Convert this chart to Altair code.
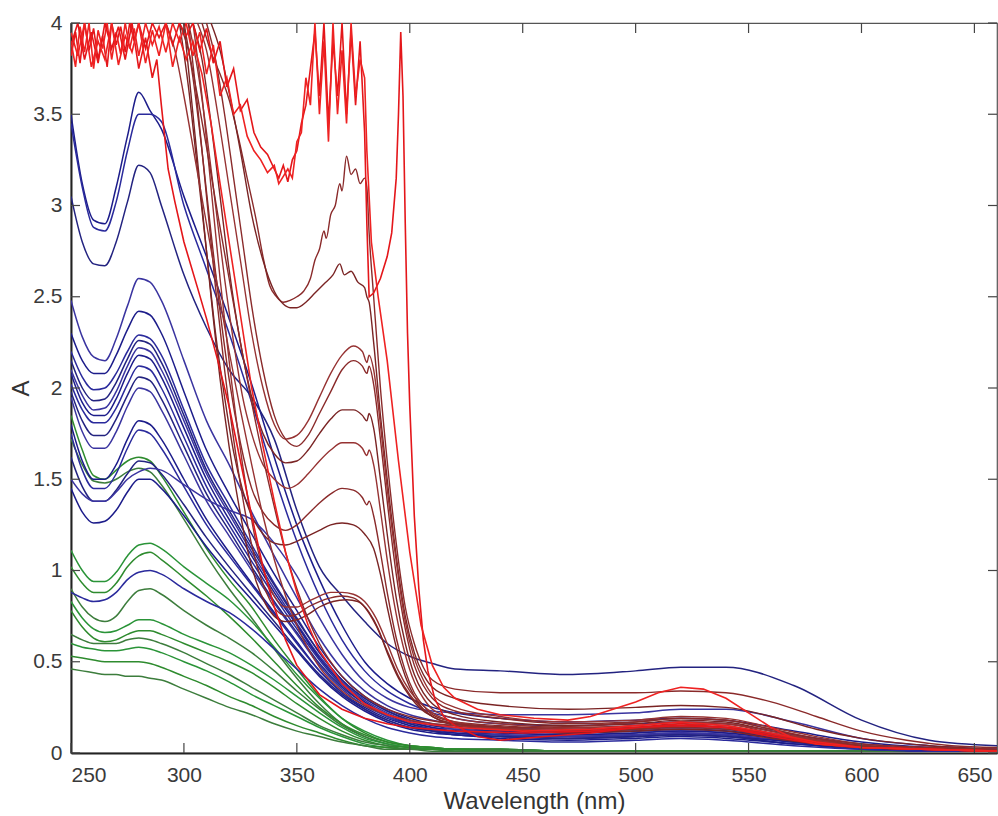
import altair as alt
import pandas as pd

# ---------------- data ----------------
XTICKS = [250, 300, 350, 400, 450, 500, 550, 600, 650]
YTICKS = [0, 0.5, 1, 1.5, 2, 2.5, 3, 3.5, 4]

# common wavelength grid for the blue and green spectra
GRID = [250, 255, 260, 265, 270, 275, 280, 285, 290, 300, 310, 320, 330, 340, 350,
        360, 370, 380, 390, 400, 410, 420, 440, 470, 500, 520, 540, 570, 600, 630, 660]

b01 = [3.50,3.12,2.92,2.90,3.10, 3.38,3.62,3.52,3.42,3.05, 2.72,2.38,2.02,1.62,1.25, 0.95,0.70,0.50,0.38,0.30, 0.25,0.22,0.19,0.17,0.18, 0.19,0.18,0.12,0.06,0.03, 0.02]
b02 = [3.45,3.10,2.88,2.86,3.02, 3.30,3.50,3.50,3.46,3.00, 2.65,2.30,1.92,1.52,1.16, 0.86,0.62,0.45,0.34,0.27, 0.22,0.19,0.16,0.15,0.16, 0.17,0.16,0.10,0.05,0.03, 0.02]
b03 = [3.05,2.80,2.68,2.67,2.80, 3.02,3.22,3.18,3.00,2.62, 2.33,2.10,1.95,1.72,1.33, 1.02,0.86,0.72,0.60,0.53, 0.49,0.46,0.45,0.43,0.45, 0.47,0.47,0.37,0.18,0.07, 0.04]
b04 = [2.48,2.28,2.17,2.15,2.27, 2.45,2.60,2.58,2.48,2.15, 1.82,1.58,1.32,1.08,0.85, 0.63,0.46,0.34,0.26,0.21, 0.18,0.16,0.14,0.13,0.14, 0.15,0.14,0.09,0.04,0.02, 0.01]
b05 = [2.30,2.15,2.08,2.08,2.18, 2.32,2.42,2.40,2.30,1.98, 1.66,1.42,1.20,0.98,0.78, 0.58,0.42,0.31,0.24,0.19, 0.16,0.15,0.13,0.12,0.13, 0.14,0.13,0.08,0.04,0.02, 0.01]
b06 = [2.20,2.06,1.99,2.00,2.08, 2.20,2.29,2.27,2.18,1.88, 1.58,1.36,1.14,0.93,0.74, 0.55,0.40,0.30,0.23,0.18, 0.15,0.14,0.12,0.11,0.12, 0.13,0.12,0.08,0.04,0.02, 0.01]
b07 = [2.15,2.00,1.93,1.94,2.03, 2.16,2.26,2.24,2.14,1.85, 1.55,1.33,1.12,0.92,0.73, 0.55,0.40,0.30,0.23,0.18, 0.15,0.13,0.12,0.11,0.12, 0.13,0.12,0.07,0.04,0.02, 0.01]
b08 = [2.10,1.96,1.88,1.89,1.98, 2.12,2.22,2.20,2.10,1.82, 1.53,1.31,1.10,0.90,0.71, 0.53,0.39,0.29,0.22,0.17, 0.14,0.13,0.11,0.10,0.11, 0.12,0.11,0.07,0.03,0.02, 0.01]
b09 = [2.08,1.92,1.85,1.85,1.94, 2.08,2.18,2.16,2.06,1.78, 1.50,1.28,1.08,0.88,0.70, 0.52,0.38,0.28,0.21,0.17, 0.14,0.12,0.11,0.10,0.11, 0.12,0.11,0.07,0.03,0.02, 0.01]
b10 = [2.02,1.88,1.81,1.81,1.89, 2.02,2.12,2.10,2.00,1.73, 1.46,1.25,1.05,0.86,0.68, 0.51,0.37,0.27,0.21,0.16, 0.13,0.12,0.10,0.09,0.10, 0.11,0.10,0.06,0.03,0.02, 0.01]
b11 = [1.98,1.82,1.74,1.74,1.83, 1.96,2.06,2.04,1.94,1.68, 1.42,1.22,1.02,0.83,0.66, 0.49,0.36,0.27,0.20,0.16, 0.13,0.12,0.10,0.09,0.10, 0.11,0.10,0.06,0.03,0.02, 0.01]
b12 = [1.95,1.76,1.67,1.67,1.76, 1.90,2.00,1.98,1.88,1.63, 1.38,1.19,1.00,0.82,0.65, 0.48,0.35,0.26,0.20,0.15, 0.13,0.11,0.10,0.09,0.10, 0.11,0.10,0.06,0.03,0.02, 0.01]
b13 = [1.80,1.60,1.50,1.50,1.58, 1.72,1.82,1.80,1.72,1.50, 1.28,1.10,0.93,0.77,0.61, 0.45,0.33,0.25,0.19,0.15, 0.12,0.11,0.09,0.08,0.09, 0.10,0.09,0.06,0.03,0.01, 0.01]
b14 = [1.75,1.55,1.45,1.45,1.53, 1.67,1.77,1.75,1.67,1.46, 1.25,1.08,0.92,0.76,0.60, 0.45,0.33,0.24,0.18,0.14, 0.12,0.10,0.09,0.08,0.09, 0.10,0.09,0.05,0.03,0.01, 0.01]
b15 = [1.62,1.46,1.38,1.38,1.44, 1.53,1.60,1.59,1.53,1.36, 1.18,1.02,0.87,0.72,0.57, 0.43,0.32,0.24,0.18,0.14, 0.12,0.10,0.09,0.08,0.09, 0.10,0.09,0.05,0.03,0.01, 0.01]
b16 = [1.50,1.42,1.38,1.38,1.43, 1.50,1.54,1.56,1.55,1.47, 1.39,1.33,1.28,1.15,0.97, 0.74,0.54,0.39,0.30,0.25, 0.23,0.22,0.21,0.21,0.22, 0.24,0.24,0.17,0.08,0.04, 0.02]
b17 = [1.45,1.32,1.26,1.27,1.33, 1.43,1.50,1.50,1.45,1.30, 1.13,0.98,0.84,0.70,0.56, 0.42,0.31,0.23,0.17,0.13, 0.11,0.10,0.08,0.07,0.08, 0.09,0.08,0.05,0.02,0.01, 0.01]
b18 = [0.88,0.85,0.83,0.84,0.88, 0.95,0.99,1.00,0.98,0.90, 0.83,0.77,0.68,0.57,0.46, 0.35,0.26,0.19,0.14,0.11, 0.09,0.08,0.07,0.06,0.07, 0.08,0.07,0.04,0.02,0.01, 0.01]
BLUE = [b01, b02, b03, b04, b05, b06, b07, b08, b09, b10, b11, b12, b13, b14, b15, b16, b17, b18]

g01 = [1.85,1.66,1.52,1.50,1.55, 1.60,1.62,1.60,1.52,1.32, 1.12,0.95,0.80,0.62,0.46, 0.31,0.19,0.11,0.06,0.04, 0.03,0.02,0.02,0.01,0.01, 0.01,0.01,0.01,0.01,0.01, 0.01]
g02 = [1.72,1.58,1.49,1.48,1.50, 1.54,1.56,1.54,1.47,1.28, 1.08,0.90,0.74,0.57,0.41, 0.27,0.16,0.09,0.05,0.03, 0.02,0.02,0.01,0.01,0.01, 0.01,0.01,0.01,0.01,0.01, 0.01]
g03 = [1.11,1.00,0.94,0.94,0.99, 1.08,1.14,1.15,1.12,1.02, 0.93,0.84,0.72,0.58,0.43, 0.30,0.19,0.12,0.07,0.04, 0.03,0.02,0.02,0.01,0.01, 0.01,0.01,0.01,0.01,0.01, 0.01]
g04 = [1.02,0.93,0.88,0.88,0.93, 1.02,1.08,1.10,1.06,0.96, 0.86,0.75,0.63,0.50,0.37, 0.25,0.16,0.10,0.06,0.04, 0.03,0.02,0.02,0.01,0.01, 0.01,0.01,0.01,0.01,0.01, 0.01]
g05 = [0.90,0.80,0.74,0.72,0.75, 0.83,0.89,0.90,0.87,0.78, 0.70,0.63,0.55,0.45,0.34, 0.24,0.15,0.09,0.05,0.03, 0.02,0.02,0.02,0.01,0.01, 0.01,0.01,0.01,0.01,0.01, 0.01]
g06 = [0.83,0.74,0.68,0.66,0.67, 0.70,0.73,0.73,0.71,0.65, 0.60,0.55,0.48,0.40,0.31, 0.22,0.14,0.08,0.05,0.03, 0.02,0.02,0.01,0.01,0.01, 0.01,0.01,0.01,0.01,0.01, 0.01]
g07 = [0.78,0.69,0.63,0.61,0.62, 0.65,0.67,0.67,0.65,0.60, 0.55,0.50,0.44,0.36,0.27, 0.19,0.12,0.07,0.04,0.03, 0.02,0.02,0.01,0.01,0.01, 0.01,0.01,0.01,0.01,0.01, 0.01]
g08 = [0.65,0.62,0.60,0.60,0.60, 0.62,0.63,0.62,0.60,0.55, 0.49,0.43,0.36,0.29,0.22, 0.15,0.10,0.06,0.04,0.02, 0.02,0.01,0.01,0.01,0.01, 0.01,0.01,0.01,0.01,0.01, 0.01]
g09 = [0.60,0.58,0.57,0.56,0.56, 0.57,0.58,0.57,0.55,0.50, 0.45,0.39,0.32,0.26,0.20, 0.14,0.09,0.05,0.03,0.02, 0.02,0.01,0.01,0.01,0.01, 0.01,0.01,0.01,0.01,0.01, 0.01]
g10 = [0.53,0.52,0.51,0.50,0.50, 0.50,0.50,0.49,0.47,0.42, 0.37,0.31,0.26,0.20,0.15, 0.11,0.07,0.04,0.03,0.02, 0.02,0.01,0.01,0.01,0.01, 0.01,0.01,0.01,0.01,0.01, 0.01]
g11 = [0.46,0.45,0.44,0.43,0.43, 0.42,0.42,0.41,0.40,0.35, 0.30,0.25,0.21,0.16,0.12, 0.09,0.06,0.04,0.02,0.02, 0.01,0.01,0.01,0.01,0.01, 0.01,0.01,0.01,0.01,0.01, 0.01]
GREEN = [g01, g02, g03, g04, g05, g06, g07, g08, g09, g10, g11]

# dark red spectra: (wavelength, A) pairs
br01 = [(308,4.0),(312,3.84),(316,3.72),(320,3.58),(324,3.38),(328,3.15),(332,2.92),(335,2.72),(338,2.56),(341,2.5),(344,2.47),(347,2.48),(350,2.5),(353,2.53),(356,2.6),(358,2.7),(360,2.76),(362,2.86),(363,2.82),(365,2.95),(367,3.0),(369,3.12),(370,3.08),(372,3.27),(374,3.17),(376,3.2),(378,3.12),(380,3.15),(381,3.1),(382,2.85),(384,2.5),(387,2.0),(390,1.6),(394,1.15),(398,0.8),(402,0.6),(406,0.47),(410,0.4),(420,0.35),(440,0.33),(470,0.33),(500,0.33),(520,0.34),(540,0.33),(560,0.28),(580,0.2),(600,0.12),(620,0.07),(640,0.04),(660,0.03)]
br02 = [(312,4.0),(316,3.85),(320,3.62),(325,3.3),(330,2.95),(335,2.7),(340,2.53),(344,2.46),(347,2.44),(350,2.44),(354,2.47),(358,2.52),(362,2.57),(366,2.62),(369,2.68),(371,2.62),(374,2.64),(377,2.58),(380,2.55),(381,2.5),(382,2.47),(384,2.25),(387,1.85),(390,1.5),(394,1.08),(398,0.75),(402,0.55),(406,0.43),(410,0.36),(420,0.3),(440,0.26),(470,0.24),(500,0.25),(520,0.26),(540,0.25),(560,0.2),(580,0.13),(600,0.08),(630,0.04),(660,0.02)]
br03 = [(306,4.0),(310,3.85),(315,3.5),(320,3.1),(325,2.7),(330,2.3),(335,2.0),(340,1.8),(345,1.72),(350,1.74),(355,1.82),(360,1.95),(365,2.08),(370,2.18),(375,2.23),(379,2.2),(381,2.14),(382,2.18),(384,2.1),(387,1.8),(390,1.45),(394,1.05),(398,0.72),(402,0.52),(406,0.4),(410,0.32),(420,0.25),(440,0.2),(470,0.17),(500,0.18),(520,0.2),(540,0.19),(560,0.14),(580,0.09),(600,0.05),(630,0.03),(660,0.02)]
br04 = [(310,4.0),(314,3.8),(318,3.5),(322,3.15),(326,2.8),(330,2.45),(335,2.1),(340,1.85),(345,1.72),(350,1.68),(355,1.74),(360,1.86),(365,1.98),(370,2.1),(375,2.15),(379,2.12),(381,2.08),(382,2.12),(384,2.02),(387,1.72),(390,1.38),(394,0.98),(398,0.68),(402,0.48),(406,0.37),(410,0.3),(420,0.23),(440,0.19),(470,0.16),(500,0.17),(520,0.19),(540,0.18),(560,0.13),(580,0.08),(600,0.05),(630,0.03),(660,0.02)]
br05 = [(304,4.0),(308,3.8),(312,3.45),(316,3.05),(320,2.65),(325,2.25),(330,1.95),(335,1.75),(340,1.64),(345,1.59),(350,1.6),(355,1.66),(360,1.75),(365,1.83),(370,1.88),(375,1.88),(379,1.85),(381,1.82),(382,1.86),(384,1.78),(387,1.5),(390,1.2),(394,0.85),(398,0.6),(402,0.43),(406,0.33),(410,0.27),(420,0.21),(440,0.17),(470,0.15),(500,0.16),(520,0.18),(540,0.17),(560,0.12),(580,0.07),(600,0.04),(630,0.02),(660,0.01)]
br06 = [(302,4.0),(306,3.75),(310,3.4),(314,3.0),(318,2.6),(322,2.25),(326,1.95),(330,1.75),(335,1.58),(340,1.5),(346,1.45),(350,1.47),(355,1.53),(360,1.6),(365,1.66),(370,1.7),(375,1.7),(379,1.67),(381,1.63),(382,1.66),(384,1.58),(387,1.33),(390,1.06),(394,0.76),(398,0.54),(402,0.39),(406,0.3),(410,0.24),(420,0.19),(440,0.16),(470,0.14),(500,0.15),(520,0.17),(540,0.16),(560,0.11),(580,0.07),(600,0.04),(630,0.02),(660,0.01)]
br07 = [(300,4.0),(304,3.7),(308,3.3),(312,2.85),(316,2.42),(320,2.05),(325,1.7),(330,1.45),(335,1.32),(340,1.25),(345,1.22),(350,1.25),(355,1.31),(360,1.37),(365,1.42),(370,1.45),(375,1.44),(379,1.4),(381,1.36),(382,1.38),(384,1.3),(387,1.1),(390,0.88),(394,0.63),(398,0.45),(402,0.33),(406,0.26),(410,0.21),(420,0.17),(440,0.15),(470,0.13),(500,0.14),(520,0.16),(540,0.15),(560,0.1),(580,0.06),(600,0.03),(630,0.02),(660,0.01)]
br08 = [(298,4.0),(302,3.65),(306,3.2),(310,2.75),(314,2.3),(318,1.95),(322,1.65),(326,1.44),(330,1.3),(335,1.2),(340,1.15),(345,1.14),(350,1.16),(355,1.19),(360,1.22),(365,1.25),(370,1.26),(375,1.25),(380,1.2),(384,1.12),(387,0.98),(390,0.8),(394,0.58),(398,0.42),(402,0.31),(406,0.24),(410,0.2),(420,0.16),(440,0.14),(470,0.12),(500,0.13),(520,0.15),(540,0.14),(560,0.1),(580,0.06),(600,0.03),(630,0.02),(660,0.01)]
br09 = [(304,4.0),(308,3.6),(312,3.1),(316,2.6),(320,2.15),(324,1.75),(328,1.42),(332,1.15),(336,0.97),(340,0.86),(345,0.8),(350,0.8),(355,0.83),(360,0.86),(365,0.88),(370,0.88),(375,0.87),(380,0.83),(385,0.74),(390,0.6),(395,0.45),(400,0.34),(405,0.27),(410,0.22),(420,0.17),(440,0.14),(470,0.12),(500,0.13),(520,0.15),(540,0.14),(560,0.1),(580,0.06),(600,0.03),(630,0.02),(660,0.01)]
br10 = [(302,4.0),(306,3.55),(310,3.05),(314,2.55),(318,2.1),(322,1.72),(326,1.4),(330,1.14),(334,0.96),(338,0.84),(342,0.77),(346,0.75),(350,0.76),(355,0.8),(360,0.83),(365,0.85),(370,0.86),(375,0.85),(380,0.8),(385,0.7),(390,0.56),(395,0.42),(400,0.32),(405,0.25),(410,0.2),(420,0.16),(440,0.13),(470,0.12),(500,0.13),(520,0.14),(540,0.13),(560,0.09),(580,0.05),(600,0.03),(630,0.02),(660,0.01)]
br11 = [(300,4.0),(304,3.5),(308,3.0),(312,2.5),(316,2.05),(320,1.68),(324,1.38),(328,1.12),(332,0.94),(336,0.82),(340,0.75),(345,0.72),(350,0.73),(355,0.76),(360,0.8),(366,0.83),(372,0.84),(377,0.83),(382,0.77),(386,0.68),(390,0.55),(395,0.41),(400,0.31),(405,0.24),(410,0.2),(420,0.15),(440,0.13),(470,0.11),(500,0.12),(520,0.13),(540,0.12),(560,0.08),(580,0.05),(600,0.03),(630,0.02),(660,0.01)]
br12 = [(292,4.0),(296,3.85),(300,3.6),(305,3.25),(310,2.9),(315,2.55),(320,2.2),(325,1.88),(330,1.58),(335,1.3),(340,1.06),(345,0.86),(350,0.7),(360,0.47),(370,0.34),(380,0.26),(390,0.21),(400,0.18),(420,0.15),(450,0.13),(480,0.14),(500,0.15),(520,0.17),(540,0.16),(560,0.12),(580,0.07),(600,0.04),(630,0.02),(660,0.01)]
br13 = [(298,4.0),(302,3.85),(306,3.6),(310,3.32),(315,2.95),(320,2.6),(325,2.25),(330,1.92),(335,1.62),(340,1.35),(345,1.1),(350,0.9),(360,0.6),(370,0.42),(380,0.31),(390,0.24),(400,0.2),(420,0.16),(450,0.14),(480,0.15),(500,0.17),(520,0.19),(540,0.18),(560,0.13),(580,0.08),(600,0.04),(630,0.02),(660,0.01)]
BROWN = [br01, br02, br03, br04, br05, br06, br07, br08, br09, br10, br11, br12, br13]

# bright red (saturated, noisy) spectra
r01 = [(250,3.82),(252,3.95),(254,3.78),(256,4.0),(258,3.85),(260,3.97),(262,3.8),(264,3.93),(266,3.76),(268,4.0),(270,3.88),(272,3.98),(274,3.84),(276,4.0),(278,3.9),(280,4.0),(283,3.86),(286,4.0),(289,3.92),(292,4.0),(295,3.88),(298,4.0),(301,3.93),(304,4.0),(307,3.85),(310,3.97),(313,3.78),(316,3.9),(319,3.65),(322,3.75),(325,3.52),(328,3.58),(331,3.4),(334,3.32),(337,3.28),(340,3.2),(342,3.15),(344,3.22),(346,3.13),(348,3.25),(350,3.3),(352,3.45),(354,3.55),(356,3.75),(358,3.95),(360,3.6),(362,4.0),(364,3.45),(366,3.9),(368,3.6),(370,4.0),(372,3.5),(374,3.95),(376,3.55),(378,3.9),(380,3.4),(381,2.9),(382,2.5),(384,2.52),(387,2.6),(390,2.72),(392,2.85),(394,3.15),(395,3.5),(396,3.95),(397,3.6),(398,2.9),(399,2.3),(400,1.9),(402,1.3),(404,0.9),(406,0.62),(408,0.45),(411,0.3),(415,0.2),(420,0.15),(430,0.09),(440,0.07),(460,0.09),(480,0.11),(500,0.14),(520,0.16),(540,0.14),(560,0.09),(580,0.05),(600,0.03),(630,0.02),(660,0.01)]
r02 = [(250,3.9),(252,3.76),(254,3.98),(256,3.84),(258,4.0),(260,3.75),(262,3.96),(264,3.86),(266,4.0),(268,3.8),(270,3.95),(272,3.83),(274,4.0),(276,3.86),(278,3.97),(280,3.82),(283,4.0),(286,3.88),(289,3.98),(292,3.84),(295,4.0),(298,3.9),(301,4.0),(304,3.82),(307,3.95),(310,3.72),(313,3.88),(316,3.6),(319,3.7),(322,3.5),(325,3.55),(328,3.38),(331,3.3),(334,3.25),(337,3.18),(340,3.22),(342,3.12),(344,3.16),(346,3.2),(348,3.15),(350,3.35),(352,3.4),(354,3.7),(356,3.55),(358,4.0),(360,3.5),(362,3.9),(364,3.35),(366,4.0),(368,3.5),(370,3.85),(372,3.45),(374,4.0),(376,3.6),(378,3.8),(380,3.7),(381,3.3),(383,2.8),(386,2.5),(390,2.15),(395,1.6),(400,1.1),(405,0.7),(410,0.48),(415,0.36),(420,0.3),(430,0.24),(440,0.21),(455,0.19),(470,0.18),(480,0.2),(490,0.24),(500,0.28),(510,0.33),(520,0.36),(530,0.35),(540,0.3),(550,0.22),(560,0.14),(570,0.08),(580,0.05),(600,0.03),(630,0.02),(660,0.01)]
r03 = [(250,3.88),(253,4.0),(256,3.8),(259,3.95),(262,3.78),(265,4.0),(268,3.86),(271,3.98),(274,3.8),(277,4.0),(280,3.75),(283,3.92),(286,3.7),(288,3.8),(290,3.55),(293,3.2),(296,3.02),(300,2.8),(306,2.55),(310,2.38),(315,2.15),(320,1.9),(325,1.6),(330,1.3),(335,1.02),(340,0.8),(345,0.62),(350,0.48),(360,0.32),(370,0.24),(380,0.19),(390,0.16),(400,0.14),(420,0.12),(450,0.11),(480,0.12),(500,0.14),(520,0.15),(540,0.14),(560,0.1),(580,0.06),(600,0.03),(630,0.02),(660,0.01)]
r04 = [(250,3.95),(253,3.82),(256,4.0),(259,3.76),(262,3.9),(265,3.8),(268,4.0),(271,3.77),(274,3.93),(277,3.84),(280,4.0),(283,3.78),(286,3.96),(289,3.82),(292,4.0),(295,3.76),(298,3.92),(301,3.8),(304,3.9),(308,3.72),(312,3.45),(316,3.12),(320,2.8),(325,2.4),(330,2.0),(335,1.68),(340,1.38),(345,1.1),(350,0.88),(355,0.7),(360,0.56),(370,0.38),(380,0.27),(390,0.21),(400,0.17),(420,0.14),(450,0.12),(480,0.13),(500,0.15),(520,0.17),(540,0.15),(560,0.11),(580,0.06),(600,0.03),(630,0.02),(660,0.01)]
RED = [r01, r02, r03, r04]

BLUE_COLS = ["#1c1c8a", "#2a2a9c", "#232380", "#3a34a0"]
GREEN_COLS = ["#2e8b2e", "#3c7d3c", "#2a9438"]
BROWN_COLS = ["#8a2a2a", "#7a2424", "#963232"]
RED_COLS = ["#e4161a", "#ee2222"]

# ---------------- build tables ----------------
def grid_rows(series_list, prefix, cols):
    rows = []
    for i, s in enumerate(series_list):
        for wl, a in zip(GRID, s):
            rows.append({"series": f"{prefix}{i:02d}", "wl": wl, "A": a, "col": cols[i % len(cols)]})
    return pd.DataFrame(rows)

def pair_rows(series_list, prefix, cols):
    rows = []
    for i, s in enumerate(series_list):
        for wl, a in s:
            rows.append({"series": f"{prefix}{i:02d}", "wl": wl, "A": a, "col": cols[i % len(cols)]})
    return pd.DataFrame(rows)

df_blue = grid_rows(BLUE, "b", BLUE_COLS)
df_green = grid_rows(GREEN, "g", GREEN_COLS)
df_brown = pair_rows(BROWN, "br", BROWN_COLS)
df_red = pair_rows(RED, "r", RED_COLS)

W, H = 926, 730
FONT = "Liberation Sans"
xscale = alt.Scale(domain=[250, 660], nice=False, zero=False)
yscale = alt.Scale(domain=[0, 4], nice=False, zero=False)

xaxis = alt.Axis(values=XTICKS, title="Wavelength (nm)", labelPadding=11, titlePadding=4, format="d")
yaxis = alt.Axis(values=YTICKS, title="A", labelPadding=9, format="~g",
                 titleX=-50, titleY=H / 2, titleAngle=-90, titleAlign="center",
                 titleBaseline="middle")
xenc = alt.X("wl:Q", scale=xscale, axis=xaxis)
yenc = alt.Y("A:Q", scale=yscale, axis=yaxis)

def lines(df, interp, width):
    return alt.Chart(df).mark_line(strokeWidth=width, interpolate=interp, clip=True).encode(
        x=xenc, y=yenc, detail="series:N", color=alt.Color("col:N", scale=None))

tick_col = "#444444"
xt = pd.DataFrame({"wl": XTICKS})
yt = pd.DataFrame({"A": YTICKS})
ticks_bottom = alt.Chart(xt).mark_rule(color=tick_col, strokeWidth=1.2).encode(
    x=xenc, y=alt.value(H), y2=alt.value(H - 10))
ticks_top = alt.Chart(xt).mark_rule(color=tick_col, strokeWidth=1.2).encode(
    x=xenc, y=alt.value(0), y2=alt.value(10))
ticks_left = alt.Chart(yt).mark_rule(color=tick_col, strokeWidth=1.2).encode(
    y=yenc, x=alt.value(0), x2=alt.value(9))
ticks_right = alt.Chart(yt).mark_rule(color=tick_col, strokeWidth=1.2).encode(
    y=yenc, x=alt.value(W - 9), x2=alt.value(W))

chart = alt.layer(
    lines(df_green, "monotone", 1.5),
    lines(df_blue, "monotone", 1.5),
    lines(df_brown, "monotone", 1.4),
    lines(df_red, "linear", 1.6),
    ticks_bottom, ticks_top, ticks_left, ticks_right,
).properties(
    width=W, height=H,
    autosize=alt.AutoSizeParams(type="none"),
    padding={"left": 71, "top": 23, "right": 1, "bottom": 63},
).configure_view(
    stroke="#555555", strokeWidth=1.2
).configure_axis(
    domainColor="#222222", domainWidth=2, ticks=False, tickSize=0, grid=False,
    labelFont=FONT, labelFontSize=21, labelColor="#3a3a3a",
    titleFont=FONT, titleFontSize=24, titleFontWeight="normal", titleColor="#333333",
)

chart.save("out.html", embed_options={"renderer": "svg", "actions": False})
